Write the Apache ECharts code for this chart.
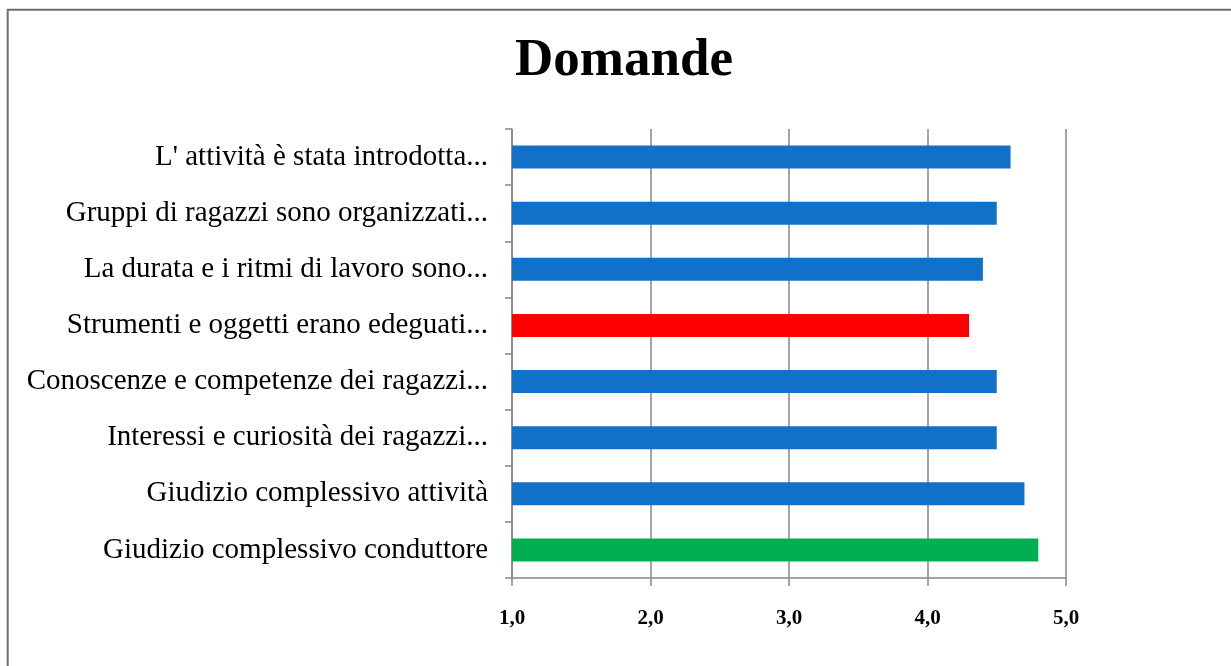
<!DOCTYPE html>
<html>
<head>
<meta charset="utf-8">
<title>Domande</title>
<script src="https://cdn.jsdelivr.net/npm/echarts@6/dist/echarts.min.js"></script>
<style>
  html, body { margin: 0; padding: 0; background: #fff; }
  #chart { width: 1231px; height: 666px; }
</style>
</head>
<body>
<div id="chart"></div>
<script>
// categorie, dall'alto verso il basso
const domande = [
    "L' attività è stata introdotta...",
    "Gruppi di ragazzi sono organizzati...",
    "La durata e i ritmi di lavoro sono...",
    "Strumenti e oggetti erano edeguati...",
    "Conoscenze e competenze dei ragazzi...",
    "Interessi e curiosità dei ragazzi...",
    "Giudizio complessivo attività",
    "Giudizio complessivo conduttore"
];
const punteggi = [4.6, 4.5, 4.4, 4.3, 4.5, 4.5, 4.7, 4.8];
const colori = ['#1170C7', '#1170C7', '#1170C7', '#FF0000', '#1170C7', '#1170C7', '#1170C7', '#00B050'];

const serif = '"Liberation Serif", "DejaVu Serif", serif';
const grigio = '#868686';

const chart = echarts.init(document.getElementById('chart'), null, { renderer: 'canvas' });

const option = {
    animation: false,
    backgroundColor: '#fff',
    title: {
        text: 'Domande',
        left: 624,
        top: 35,
        textAlign: 'center',
        padding: 0,
        textStyle: { fontFamily: serif, fontWeight: 'bold', fontSize: 53, color: '#000' }
    },
    graphic: [{
        type: 'rect',
        shape: { x: 7.7, y: 9.8, width: 2000, height: 2000 },
        style: { fill: 'none', stroke: '#6e6e6e', lineWidth: 2 },
        silent: true
    }],
    grid: { left: 512, right: 165, top: 129, bottom: 88, containLabel: false },
    xAxis: {
        type: 'value',
        min: 1,
        max: 5,
        interval: 1,
        axisLine: { show: true, lineStyle: { color: grigio, width: 1.5 } },
        axisTick: { show: true, length: 8, lineStyle: { color: grigio, width: 1.5 } },
        splitLine: { show: true, lineStyle: { color: grigio, width: 1.5 } },
        axisLabel: {
            margin: 30,
            fontFamily: serif,
            fontWeight: 'bold',
            fontSize: 21,
            color: '#000',
            formatter: v => v.toFixed(1).replace('.', ',')
        }
    },
    yAxis: {
        type: 'category',
        inverse: true,
        data: domande,
        axisLine: { show: true, lineStyle: { color: grigio, width: 1.5 } },
        axisTick: { show: true, length: 7, alignWithLabel: false, lineStyle: { color: grigio, width: 1.5 } },
        splitLine: { show: false },
        axisLabel: { margin: 24, fontFamily: serif, fontSize: 29, color: '#000' }
    },
    series: [{
        type: 'bar',
        data: punteggi.map((v, i) => ({ value: v, itemStyle: { color: colori[i] } })),
        barWidth: 23
    }]
};

chart.setOption(option);
</script>
</body>
</html>
